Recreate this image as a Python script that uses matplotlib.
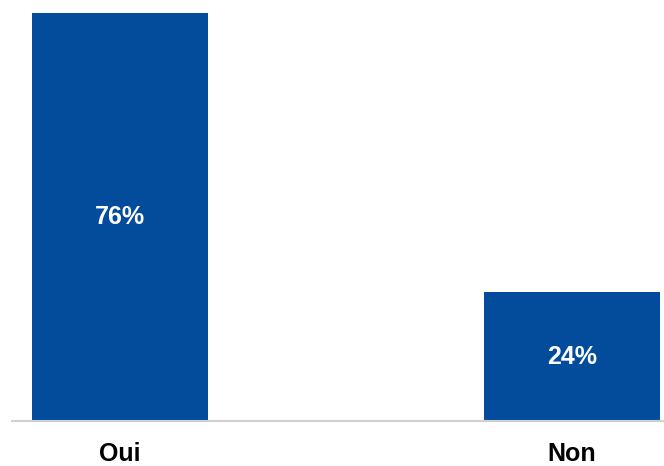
import matplotlib
matplotlib.use("Agg")
import matplotlib.pyplot as plt

# ── data ─────────────────────────────────────
categories = ["Oui", "Non"]
values = [76, 24]
labels = ["76%", "24%"]

BAR_COLOR = "#034C9C"

plt.rcParams["font.family"] = ["Liberation Sans", "DejaVu Sans"]

fig = plt.figure(figsize=(6.64, 4.66), dpi=100)
ax = fig.add_axes([12 / 664, 45 / 466, 652 / 664, 421 / 466])

x = range(len(categories))
bars = ax.bar(x, values, width=0.389, color=BAR_COLOR)

for bar, lab in zip(bars, labels):
    ax.text(bar.get_x() + bar.get_width() / 2, bar.get_height() / 2, lab,
            ha="center", va="center", color="white",
            fontsize=18, fontweight="bold")

ax.set_xlim(-0.239, 1.204)
ax.set_ylim(0, 78.4)
ax.set_xticks(list(x))
ax.set_xticklabels(categories, fontsize=18, fontweight="bold")
ax.tick_params(axis="x", length=0, pad=15)
ax.set_yticks([])

for side in ("top", "right", "left"):
    ax.spines[side].set_visible(False)
ax.spines["bottom"].set_color("#d0d0d0")
ax.spines["bottom"].set_linewidth(1.5)

fig.savefig("out.png", dpi=100)
plt.close(fig)
